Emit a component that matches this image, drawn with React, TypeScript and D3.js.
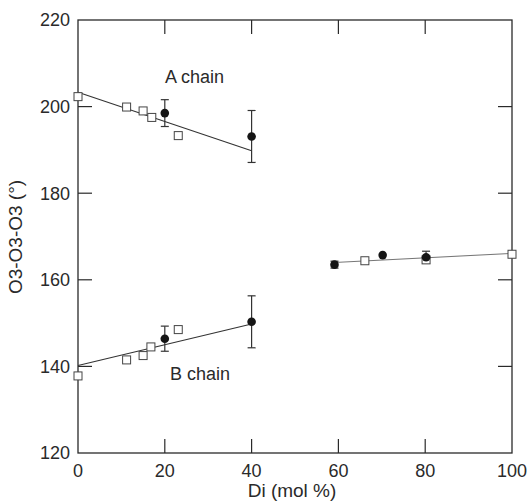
import React, { useEffect, useRef } from "react";
import * as d3 from "d3";

// open squares (A chain, B chain, right branch)
const squaresA = [ [0, 202.3], [11.2, 199.9], [15, 199.0], [17, 197.5], [23.1, 193.3] ];
const squaresB = [ [0, 137.8], [11.2, 141.5], [15, 142.5], [16.8, 144.5], [23.1, 148.5] ];
const squaresR = [ [66.1, 164.4], [80.2, 164.6], [100, 165.9] ];

// filled circles with error bars [x, y, err]
const circlesA = [ [20, 198.5, 3.1], [40, 193.1, 6] ];
const circlesB = [ [20, 146.4, 2.9], [40, 150.3, 6] ];
const circlesR = [ [59.1, 163.5, 0.8], [70.2, 165.7, 0], [80.2, 165.2, 1.4] ];

// fitted lines (endpoints)
const fitA = [ [0, 203.3], [40, 189.8] ];
const fitB = [ [0, 140.2], [40, 149.8] ];
const fitR = [ [59.1, 164.0], [100, 166.1] ];

const xTicks = [0, 20, 40, 60, 80, 100];
const yTicks = [120, 140, 160, 180, 200, 220];

export default function App() {
    const svgRef = useRef(null);
    const width = 529, height = 502;
    const margin = { top: 20, right: 17, bottom: 49, left: 78 };

    useEffect(() => {
        const svg = d3.select(svgRef.current);
        svg.selectAll("*").remove();

        const x = d3.scaleLinear().domain([0, 100]).range([margin.left, width - margin.right]);
        const y = d3.scaleLinear().domain([120, 220]).range([height - margin.bottom, margin.top]);
        const ink = "#2a2a2a";
        const font = "'Liberation Sans', Arial, sans-serif";

        // frame
        svg.append("rect")
            .attr("x", x(0)).attr("y", y(220))
            .attr("width", x(100) - x(0)).attr("height", y(120) - y(220))
            .attr("fill", "none").attr("stroke", ink).attr("stroke-width", 1.3);

        // inner ticks on all sides
        const tl = 14;
        const ticks = svg.append("g").attr("stroke", ink).attr("stroke-width", 1.2);
        xTicks.slice(1, -1).forEach(t => {
            ticks.append("line").attr("x1", x(t)).attr("x2", x(t)).attr("y1", y(120)).attr("y2", y(120) - tl);
            ticks.append("line").attr("x1", x(t)).attr("x2", x(t)).attr("y1", y(220)).attr("y2", y(220) + tl);
        });
        yTicks.slice(1, -1).forEach(t => {
            ticks.append("line").attr("x1", x(0)).attr("x2", x(0) + tl).attr("y1", y(t)).attr("y2", y(t));
            ticks.append("line").attr("x1", x(100)).attr("x2", x(100) - tl).attr("y1", y(t)).attr("y2", y(t));
        });

        // tick labels
        svg.append("g").attr("font-family", font).attr("font-size", 18).attr("fill", ink)
            .attr("text-anchor", "middle")
            .selectAll("text").data(xTicks).join("text")
            .attr("x", d => x(d)).attr("y", 477).text(d => d);
        svg.append("g").attr("font-family", font).attr("font-size", 18).attr("fill", ink)
            .attr("text-anchor", "end")
            .selectAll("text").data(yTicks).join("text")
            .attr("x", x(0) - 8).attr("y", d => y(d)).attr("dy", "0.35em").text(d => d);

        // axis titles
        svg.append("text").attr("font-family", font).attr("font-size", 19).attr("fill", ink)
            .attr("text-anchor", "middle").attr("x", 292).attr("y", 497).text("Di (mol %)");
        svg.append("text").attr("font-family", font).attr("font-size", 19).attr("fill", ink)
            .attr("text-anchor", "middle")
            .attr("transform", `translate(22,${ 237 }) rotate(-90)`)
            .text("O3-O3-O3  (°)");

        // fit lines
        const line = d3.line().x(d => x(d[0])).y(d => y(d[1]));
        svg.append("g").attr("fill", "none").attr("stroke", "#333").attr("stroke-width", 1.1)
            .selectAll("path").data([fitA, fitB]).join("path").attr("d", line);
        svg.append("path").attr("d", line(fitR)).attr("fill", "none").attr("stroke", "#777").attr("stroke-width", 1.1);

        // error bars
        const circles = [...circlesA, ...circlesB, ...circlesR];
        const eb = svg.append("g").attr("stroke", "#333").attr("stroke-width", 1.2);
        circles.filter(d => d[2] > 0).forEach(([cx, cy, e]) => {
            eb.append("line").attr("x1", x(cx)).attr("x2", x(cx)).attr("y1", y(cy - e)).attr("y2", y(cy + e));
            [cy - e, cy + e].forEach(v => {
                eb.append("line").attr("x1", x(cx) - 4).attr("x2", x(cx) + 4).attr("y1", y(v)).attr("y2", y(v));
            });
        });

        // open squares
        const s = 8;
        svg.append("g").attr("fill", "white").attr("stroke", "#444").attr("stroke-width", 1)
            .selectAll("rect").data([...squaresA, ...squaresB, ...squaresR]).join("rect")
            .attr("x", d => x(d[0]) - s / 2).attr("y", d => y(d[1]) - s / 2)
            .attr("width", s).attr("height", s);

        // filled circles
        svg.append("g").attr("fill", "#151515")
            .selectAll("circle").data(circles).join("circle")
            .attr("cx", d => x(d[0])).attr("cy", d => y(d[1])).attr("r", 4.3);

        // labels
        svg.append("text").attr("font-family", font).attr("font-size", 18).attr("fill", ink)
            .attr("x", 165).attr("y", 83).text("A chain");
        svg.append("text").attr("font-family", font).attr("font-size", 18).attr("fill", ink)
            .attr("x", 170).attr("y", 380).text("B chain");
    }, []);

    return <svg ref={ svgRef } width={ width } height={ height }
                style={ { position: "absolute", left: 0, top: 0, background: "white" } }/>;
}
